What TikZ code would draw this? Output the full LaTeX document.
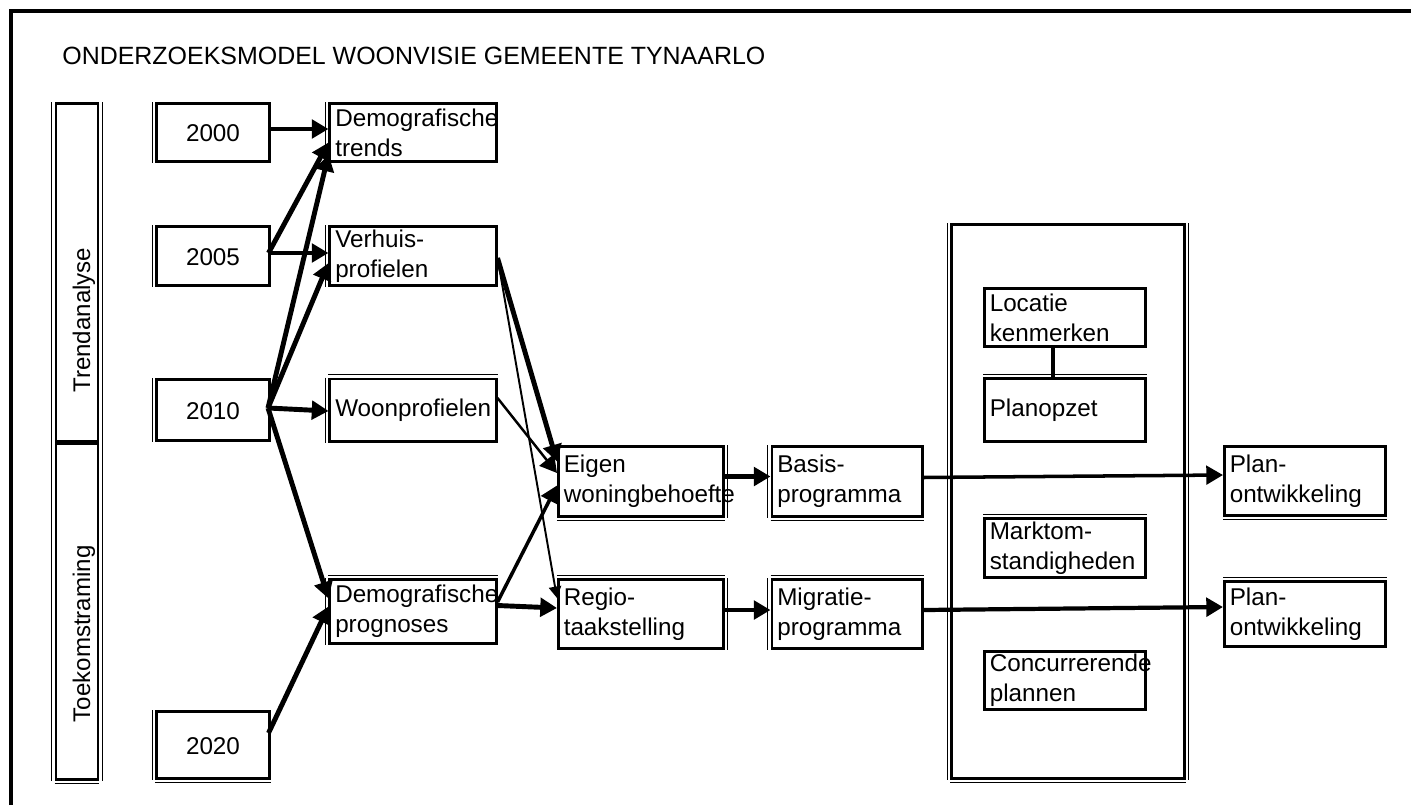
\documentclass[tikz,border=0pt]{standalone}
\usepackage{fontspec}
\setmainfont{Liberation Sans}
\usetikzlibrary{arrows.meta,positioning}
\hyphenpenalty=10000

\tikzset{
  blok/.style={draw, rectangle, line width=1.7pt, inner xsep=3pt, inner ysep=0pt,
    font=\fontsize{13.8}{17}\selectfont, align=left},
  jaar/.style={blok, align=center, text width=20.5mm, text height=1.06em, text depth=0pt, minimum height=#1},
  midden/.style={blok, text width=31.1mm},
  behoefte/.style={blok, text width=30.9mm},
  programma/.style={blok, text width=27.9mm},
  factor/.style={blok, text width=30.1mm},
  fase/.style={draw, line width=1.7pt, inner sep=0pt, minimum width=8.4mm},
  fasetekst/.style={rotate=90, anchor=base west, inner sep=0pt, font=\fontsize{13.7}{17}\selectfont},
  dun/.style={line width=0.6pt},
  pijl/.style={->, line width=2.8pt},
  pijldun/.style={-{Triangle[length=6.5pt,width=7pt]}, line width=1.1pt}
}

\begin{document}
\begin{tikzpicture}[x=0.2mm, y=-0.2mm, >={Triangle[length=9.5pt,width=10.5pt]},
    node distance=40mm]
  \useasboundingbox (0,0) rectangle (1411,805);
  \draw[line width=2.2pt] (11,805) -- (11,11) -- (1411,11);
  \node[anchor=base west, inner sep=0pt, font=\fontsize{14.2}{17}\selectfont] (titel) at (62,65)
    {ONDERZOEKSMODEL WOONVISIE GEMEENTE TYNAARLO};

  % fasen
  \node[fase, minimum height=67.6mm] (trend) at (77,272.5) {};
  \node[fase, minimum height=67mm] (toekomst) at (77,611.5) {};
  \node[fasetekst] (trendtekst) at ([xshift=2.6mm,yshift=10mm]trend.south) {Trendanalyse};
  \node[fasetekst] (toekomsttekst) at ([xshift=2.6mm,yshift=11.6mm]toekomst.south) {Toekomstraming};

  % jaren
  \node[jaar=11.6mm] (j2000) at (213,132.5) {2000};
  \node[jaar=11.8mm] (j2005) at (213,256) {2005};
  \node[jaar=12.2mm] (j2010) at (213,410) {2010};
  \node[jaar=13.4mm] (j2020) at (213,745) {2020};

  % analyses
  \node[midden, minimum height=11.6mm] [right of=j2000] (trends) {Demografische\\trends};
  \node[midden, minimum height=11.8mm] [right of=j2005] (verhuis) {Verhuis-\\profielen};
  \node[midden, minimum height=12.4mm] [right of=j2010] (woon) {Woonprofielen};
  \node[midden, minimum height=12.8mm] (prognoses) at (413,611.5) {Demografische\\prognoses};

  \node[behoefte, minimum height=14mm] (eigen) at (641,481.5) {Eigen\\woningbehoefte};
  \node[behoefte, minimum height=13.8mm] (regio) at (641,614) {Regio-\\taakstelling};
  \node[programma, minimum height=14mm] [node distance=41.2mm, right of=eigen] (basis) {Basis-\\programma};
  \node[programma, minimum height=13.8mm] [node distance=41.2mm, right of=regio] (migratie) {Migratie-\\programma};

  % toetsing
  \node[draw, line width=1.7pt, inner sep=0pt, minimum width=46.6mm, minimum height=110.8mm]
    (kader) at (1068,501.5) {};
  \node[factor, minimum height=11.6mm] (locatie) at (1065,317.5) {Locatie\\kenmerken};
  \node[factor, minimum height=12.6mm] (planopzet) at (1065,410) {Planopzet};
  \node[factor, minimum height=11.8mm] (markt) at (1065,548) {Marktom-\\standigheden};
  \node[factor, minimum height=11.6mm] (concurrent) at (1065,680.5) {Concurrerende\\plannen};

  \node[factor, minimum height=13.8mm] (plan1) at (1305,481) {Plan-\\ontwikkeling};
  \node[factor, minimum height=13mm] (plan2) at (1305,614) {Plan-\\ontwikkeling};

  % schaduwlijnen
  \foreach \n in {j2000,j2005,j2010,j2020,trends,verhuis,woon,prognoses,basis,migratie,kader,trend,toekomst}
    \draw[dun] ([xshift=-0.55mm]\n.north west) -- ([xshift=-0.55mm]\n.south west);
  \foreach \n in {woon,prognoses,regio,migratie,planopzet,markt,plan2}
    \draw[dun] ([yshift=0.55mm]\n.north west) -- ([yshift=0.55mm]\n.north east);
  \foreach \n in {j2020,eigen,basis,plan1,kader,toekomst}
    \draw[dun] ([yshift=-0.55mm]\n.south west) -- ([yshift=-0.55mm]\n.south east);
  \foreach \n in {eigen,regio,kader,trend,toekomst}
    \draw[dun] ([xshift=0.55mm]\n.north east) -- ([xshift=0.55mm]\n.south east);

  % pijlen
  \draw[pijl] ([xshift=-0.5mm,yshift=0.7mm]j2000.east) -- ([yshift=0.7mm]trends.west);
  \draw[pijl] ([xshift=-0.5mm,yshift=0.6mm]j2005.east) -- ([yshift=-2mm]trends.west);
  \draw[pijl] ([xshift=-0.5mm,yshift=0.6mm]j2005.east) -- ([yshift=0.6mm]verhuis.west);
  \draw[pijl] ([xshift=-0.6mm,yshift=0.4mm]j2010.east) -- ([yshift=-4.4mm]trends.west);
  \draw[pijl] ([xshift=-0.6mm,yshift=0.4mm]j2010.east) -- ([yshift=-1.4mm]verhuis.west);
  \draw[pijl] ([xshift=-0.6mm,yshift=0.4mm]j2010.east) -- ([yshift=-0.2mm]woon.west);
  \draw[pijl] ([xshift=-0.6mm,yshift=0.4mm]j2010.east) -- ([yshift=2.6mm]prognoses.west);
  \draw[pijl] ([xshift=-0.5mm,yshift=2.4mm]j2020.east) -- ([yshift=1mm]prognoses.west);

  \draw[pijl] ([yshift=-0.4mm]verhuis.east) -- ([yshift=4mm]eigen.west);
  \draw[pijldun] ([yshift=-0.4mm]verhuis.east) -- ([yshift=3.2mm]regio.west);
  \draw[->, line width=1.4pt] ([yshift=2.4mm]woon.east) -- ([yshift=1.7mm]eigen.west);
  \draw[pijl, line width=2pt] ([yshift=1.9mm]prognoses.east) -- ([yshift=-0.8mm]eigen.west);
  \draw[pijl] ([yshift=1.2mm]prognoses.east) -- ([yshift=1.2mm]regio.west);

  \draw[pijl] ([yshift=1mm]eigen.east) -- ([yshift=1mm]basis.west);
  \draw[pijl] ([yshift=0.8mm]regio.east) -- ([yshift=0.8mm]migratie.west);
  \draw[pijl, line width=2pt] ([yshift=0.8mm]basis.east) -- ([yshift=1.2mm]plan1.west);
  \draw[pijl, line width=2.4pt] ([yshift=0.8mm]migratie.east) -- ([yshift=1.4mm]plan2.west);

  \draw[line width=2.2pt] ([xshift=-2.4mm]locatie.south) -- ([xshift=-2.4mm]planopzet.north);
\end{tikzpicture}
\end{document}
